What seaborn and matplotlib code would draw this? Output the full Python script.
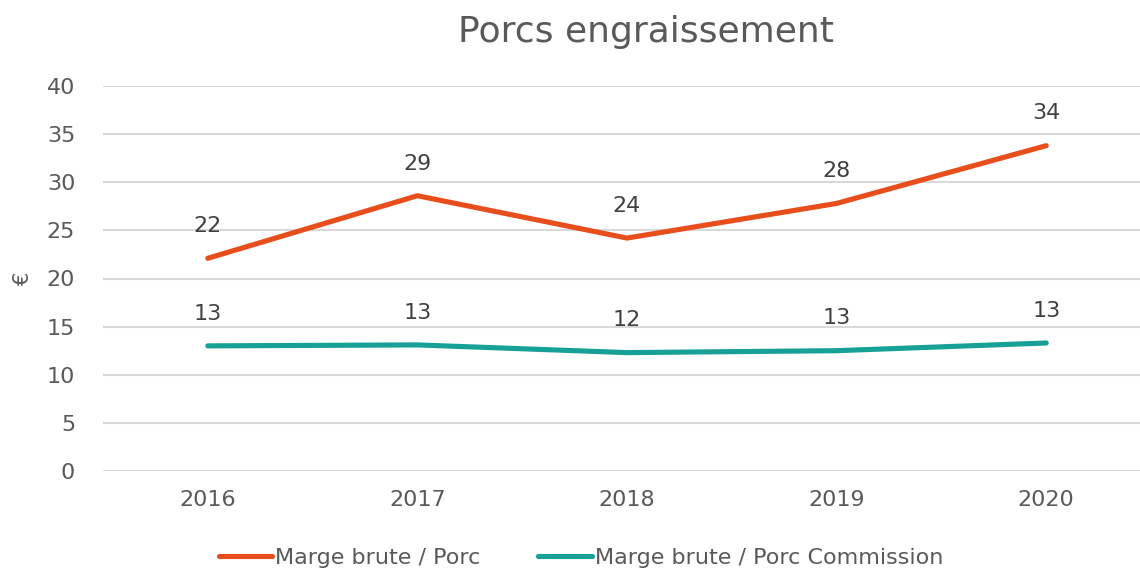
import seaborn as sns
import numpy as np
import pandas as pd
import matplotlib.pyplot as plt

# data
years = ['2016', '2017', '2018', '2019', '2020']
marge_porc = [22.1, 28.6, 24.2, 27.8, 33.8]
marge_commission = [13.0, 13.1, 12.3, 12.5, 13.3]
label_porc = ['22', '29', '24', '28', '34']
label_commission = ['13', '13', '12', '13', '13']
series_names = ['Marge brute / Porc', 'Marge brute / Porc Commission']

df = pd.DataFrame({
    'Année': years * 2,
    'Valeur': marge_porc + marge_commission,
    'Série': [series_names[0]] * 5 + [series_names[1]] * 5,
})

sns.set_style('white')
plt.rcParams['font.family'] = ['DejaVu Sans']
gray = '#595959'
colors = ['#E84E1B', '#16A096']

fig = plt.figure(figsize=(11.4, 5.73), dpi=100)
ax = fig.add_axes([103 / 1140, 102 / 573, 1048 / 1140, 385 / 573])

sns.lineplot(data=df, x='Année', y='Valeur', hue='Série', palette=colors,
             linewidth=3.7, ax=ax, sort=False, solid_capstyle='round')

# data labels
for vals, labs in [(marge_porc, label_porc), (marge_commission, label_commission)]:
    for i, (v, t) in enumerate(zip(vals, labs)):
        ax.annotate(t, (i, v), xytext=(0, 16), textcoords='offset points',
                    ha='center', va='bottom', fontsize=16, color='#404040')

ax.set_ylim(0, 40)
ax.set_xlim(-0.5, 4.5)
ax.set_yticks(range(0, 41, 5))
ax.yaxis.grid(True, color='#d9d9d9', linewidth=1.5)
ax.set_axisbelow(True)
for s in ax.spines.values():
    s.set_visible(False)
ax.tick_params(axis='both', labelsize=16, colors=gray, length=0)
ax.tick_params(axis='x', pad=14)
ax.tick_params(axis='y', pad=20)
ax.set_xlabel('')
ax.set_ylabel('€', fontsize=15, color=gray, labelpad=10)

fig.text(0.567, 0.945, 'Porcs engraissement', ha='center', va='center',
         fontsize=26, color=gray)

ax.legend(loc='center', bbox_to_anchor=(478 / 1048, -0.225), ncol=2,
          frameon=False, fontsize=16, handlelength=2.4, handletextpad=0.15,
          columnspacing=2.6, labelcolor=gray)

fig.savefig('out.png', dpi=100)
